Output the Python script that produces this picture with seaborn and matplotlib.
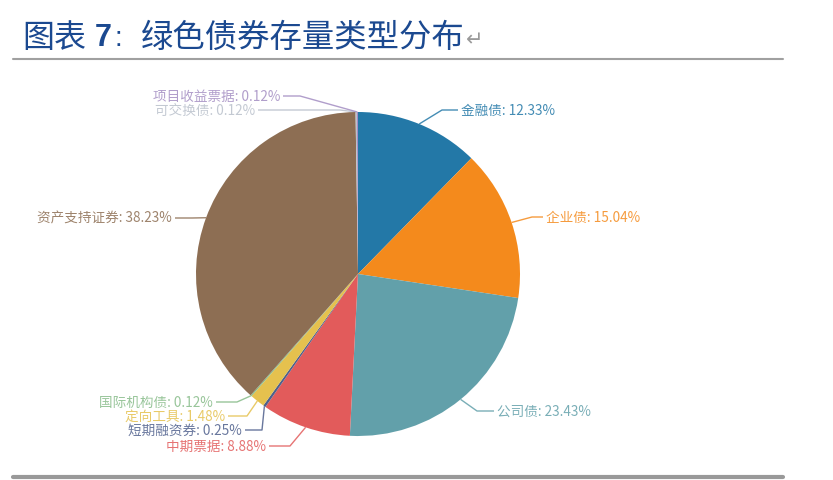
import numpy as np
import matplotlib
matplotlib.use("Agg")
import matplotlib.pyplot as plt
import seaborn as sns

sns.set_theme(style="white")
plt.rcParams['font.family'] = ['Noto Sans CJK SC', 'DejaVu Sans']

# --- data (clockwise from 12 o'clock) ---
categories = ['金融债', '企业债', '公司债', '中期票据', '短期融资券',
              '定向工具', '国际机构债', '资产支持证券', '可交换债', '项目收益票据']
shares = [12.33, 15.04, 23.43, 8.88, 0.25, 1.48, 0.12, 38.23, 0.12, 0.12]
slice_colors = ['#2378a7', '#f48a1c', '#62a0aa', '#e25b5b', '#4e5f8c',
                '#e5c14e', '#86bb88', '#8d6e53', '#b9c0cb', '#a38dc2']

# label layout in pixels (y down): text x, text y, elbow x, alignment
label_layout = [
    (461, 111, 442, 'left'),
    (546, 218, 532, 'left'),
    (497, 412, 477, 'left'),
    (266, 447, 290, 'right'),
    (242, 431, 262, 'right'),
    (225, 417, 247, 'right'),
    (213, 403, 237, 'right'),
    (172, 219, 192, 'right'),
    (255, 111, 340, 'right'),
    (280, 97, 300, 'right'),
]

W, H = 833, 481
cx, cy, R = 358, 275, 162

fig = plt.figure(figsize=(W / 100, H / 100), dpi=100)

# overlay axes in pixel coords
ax = fig.add_axes([0, 0, 1, 1])
ax.set_xlim(0, W)
ax.set_ylim(H, 0)
ax.axis('off')

# pie axes
ax_pie = fig.add_axes([(cx - R) / W, (H - cy - R) / H, 2 * R / W, 2 * R / H])
wedges, _ = ax_pie.pie(shares, colors=slice_colors, startangle=90, counterclock=False,
                       radius=1, wedgeprops=dict(linewidth=0))
ax_pie.set_xlim(-1, 1)
ax_pie.set_ylim(-1, 1)
ax_pie.axis('off')

# labels with leader lines
for w, name, val, col, (tx, ty, ex, ha) in zip(wedges, categories, shares, slice_colors, label_layout):
    mid = np.deg2rad((w.theta1 + w.theta2) / 2)
    px = cx + R * np.cos(mid)
    py = cy - R * np.sin(mid)
    gap = 3 if ha == 'left' else -3
    ax.plot([px, ex, tx - gap], [py, ty, ty], color=col, lw=1, alpha=0.85,
            solid_capstyle='butt')
    ax.text(tx, ty, f"{name}: {val:.2f}%", color=col, alpha=0.85, fontsize=9.8,
            ha=ha, va='center')

# title
title_color = '#1b4990'
ax.text(22, 38, '图表', fontsize=23, color=title_color, va='center', ha='left')
ax.text(95, 38, '7', fontsize=22, color=title_color, va='center', ha='left',
        fontweight='bold', family=['Liberation Sans', 'DejaVu Sans'])
ax.text(115, 39, ':', fontsize=20, color=title_color, va='center', ha='left',
        family=['Liberation Sans', 'DejaVu Sans'])
ax.text(141, 38, '绿色债券存量类型分布', fontsize=23.3, color=title_color,
        va='center', ha='left')
ax.text(466, 40, '↵', fontsize=15, color='#9a9a9a', va='center', ha='left',
        family=['DejaVu Sans'])

# rules
ax.plot([13, 783], [60, 60], color='#a0a0a0', lw=1.5)
ax.plot([13, 783], [478, 478], color='#999999', lw=3)

fig.savefig('out.png', dpi=100)
